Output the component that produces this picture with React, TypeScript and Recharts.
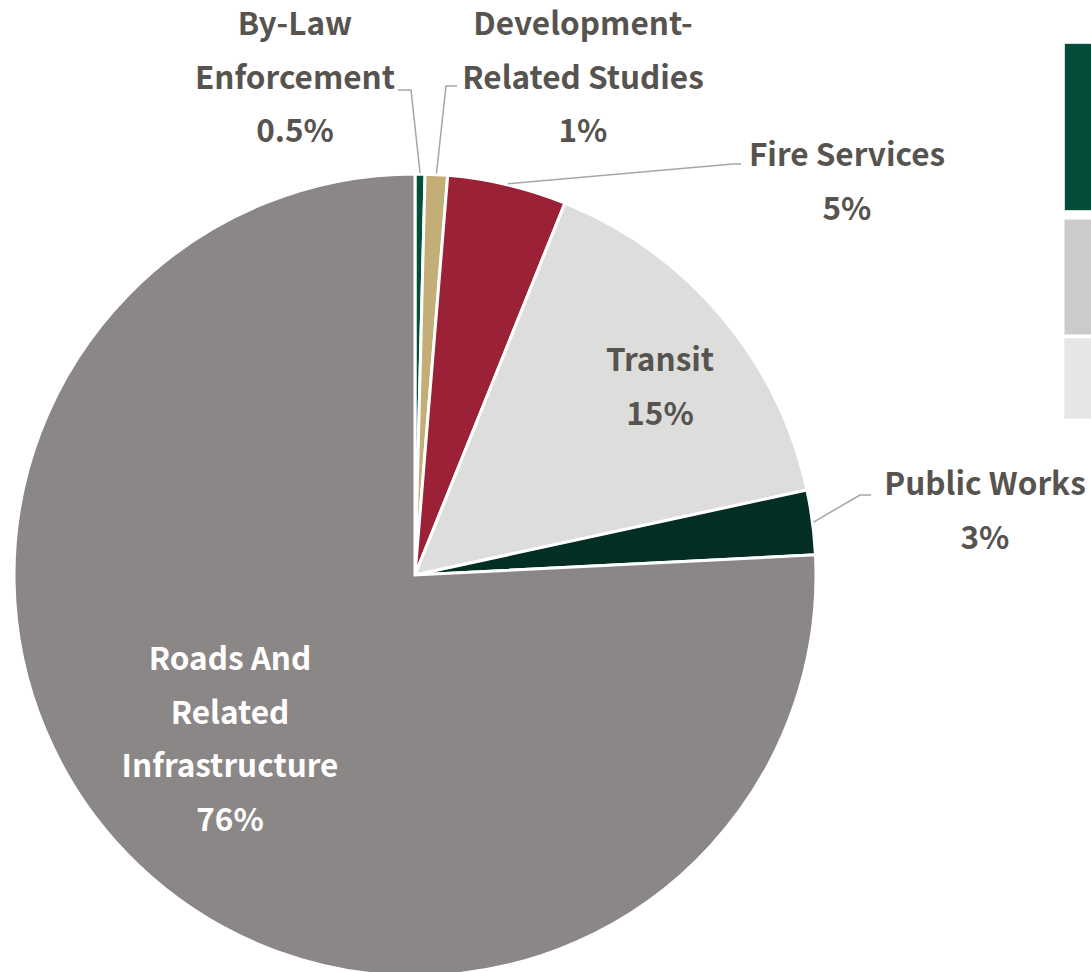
import { Cell, Pie, PieChart } from 'recharts'

const CATEGORIES = [
  ['By-Law', 'Enforcement'],
  ['Development-', 'Related Studies'],
  ['Fire Services'],
  ['Transit'],
  ['Public Works'],
  ['Roads And', 'Related', 'Infrastructure'],
]
const SHARES = [0.4, 0.9, 4.8, 15.5, 2.6, 75.8]
const SHARE_LABELS = ['0.5%', '1%', '5%', '15%', '3%', '76%']

const COLORS = ['#00503a', '#c4ae78', '#9b2136', '#dddddc', '#022e24', '#8b8786']

// label block placement relative to the pie centre; leader = [elbow, end] or null
const LABEL_LAYOUT: Array<{
  dx: number
  dy: number
  fill: string
  leader: [[number, number], [number, number]] | null
}> = [
  { dx: -120, dy: -554, fill: '#57534f', leader: [[-4, -485], [-17, -485]] },
  { dx: 168, dy: -554, fill: '#57534f', leader: [[31, -489], [42, -489]] },
  { dx: 432, dy: -423, fill: '#57534f', leader: [[318, -411], [326, -411]] },
  { dx: 245, dy: -218, fill: '#57534f', leader: null },
  { dx: 570, dy: -94, fill: '#57534f', leader: [[445, -80], [456, -80]] },
  { dx: -185, dy: 81, fill: '#ffffff', leader: null },
]

const RAD = Math.PI / 180
const LINE_GAP = 53.7
const FONT = '"Noto Sans CJK JP", "Noto Sans", sans-serif'

type LabelProps = {
  cx: number
  cy: number
  midAngle: number
  outerRadius: number
  index: number
}

function renderLabel({ cx, cy, midAngle, outerRadius, index }: LabelProps) {
  const layout = LABEL_LAYOUT[index]
  const lines = [...CATEGORIES[index], SHARE_LABELS[index]]
  const x = cx + layout.dx
  const y0 = cy + layout.dy
  let leader = null
  if (layout.leader) {
    const sx = cx + (outerRadius + 1) * Math.cos(-midAngle * RAD)
    const sy = cy + (outerRadius + 1) * Math.sin(-midAngle * RAD)
    const [[ex, ey], [tx, ty]] = layout.leader
    leader = (
      <polyline
        points={`${sx},${sy} ${cx + ex},${cy + ey} ${cx + tx},${cy + ty}`}
        fill="none"
        stroke="#a6a6a6"
        strokeWidth={1.5}
      />
    )
  }
  return (
    <g key={`label-${index}`}>
      {leader}
      {lines.map((line, i) => (
        <text
          key={i}
          x={x}
          y={y0 + i * LINE_GAP}
          textAnchor="middle"
          dominantBaseline="central"
          fill={layout.fill}
          fontFamily={FONT}
          fontWeight={700}
          fontSize={31.5}
        >
          {line}
        </text>
      ))}
    </g>
  )
}

const data = CATEGORIES.map((lines, i) => ({
  name: lines.join(' '),
  value: SHARES[i],
}))

export default function App() {
  return (
    <div
      style={{
        position: 'absolute',
        left: 0,
        top: 0,
        width: 1091,
        height: 972,
        overflow: 'hidden',
        background: '#fff',
      }}
    >
      <PieChart width={1091} height={972} margin={{ top: 0, right: 0, bottom: 0, left: 0 }}>
        <Pie
          data={data}
          dataKey="value"
          cx={415}
          cy={575}
          outerRadius={401}
          startAngle={90}
          endAngle={-270}
          stroke="#ffffff"
          strokeWidth={3}
          label={renderLabel}
          labelLine={false}
          isAnimationActive={false}
        >
          {data.map((_, i) => (
            <Cell key={i} fill={COLORS[i]} />
          ))}
        </Pie>
      </PieChart>
      {/* clipped legend swatches at the right edge */}
      <div style={{ position: 'absolute', left: 1064, top: 43, width: 30, height: 168, background: '#034c3a', border: '1px solid #d8dcda', boxSizing: 'border-box' }} />
      <div style={{ position: 'absolute', left: 1064, top: 219, width: 30, height: 116, background: '#c9cccb', border: '1px solid #e4e6e5', boxSizing: 'border-box' }} />
      <div style={{ position: 'absolute', left: 1064, top: 338, width: 30, height: 81, background: '#e5e6e5', border: '1px solid #eeeeee', boxSizing: 'border-box' }} />
    </div>
  )
}
